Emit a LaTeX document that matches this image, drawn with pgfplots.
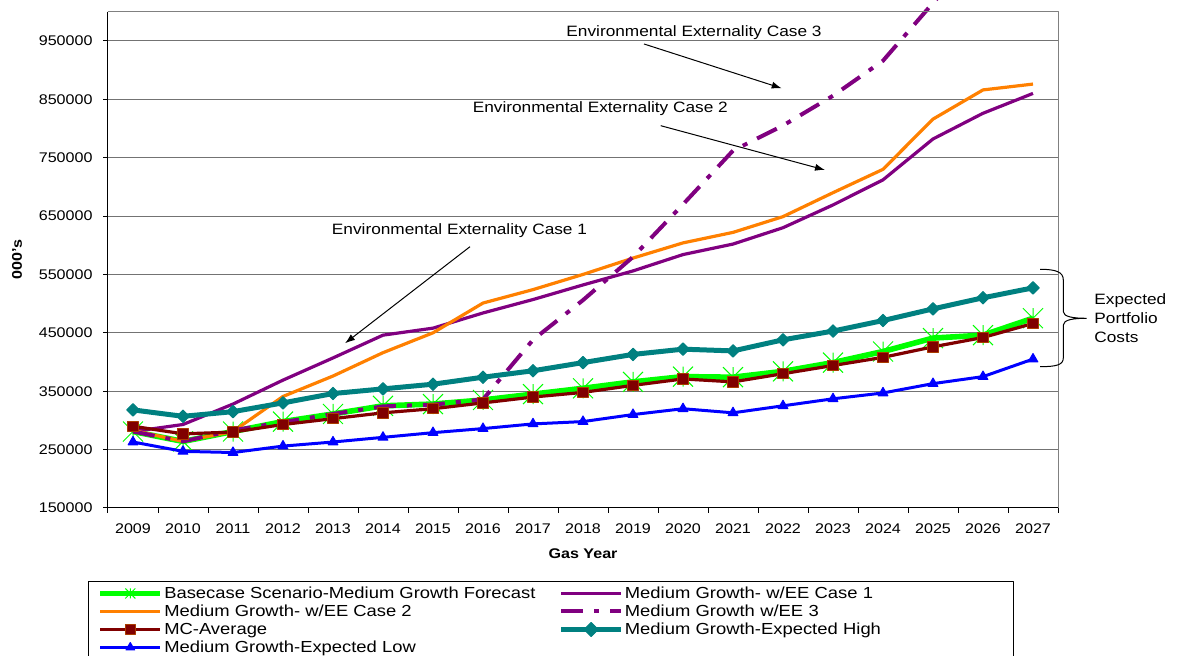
\documentclass[border=0pt]{standalone}
\usepackage{fontspec}
\setmainfont{Liberation Sans}[FakeStretch=1.15]
\usepackage{pgfplots}
\usepackage{pgfplotstable}
\pgfplotsset{compat=1.18}
\usetikzlibrary{arrows.meta}

\definecolor{baseGreen}{RGB}{0,255,0}
\definecolor{eePurple}{RGB}{128,0,128}
\definecolor{eeOrange}{RGB}{255,128,0}
\definecolor{mcRed}{RGB}{128,0,0}
\definecolor{mcEdge}{RGB}{170,60,0}
\definecolor{highTeal}{RGB}{0,128,128}
\definecolor{lowBlue}{RGB}{0,0,255}

\newcommand\tickfont{\fontsize{7}{8}\selectfont}
\newcommand\labelfont{\fontsize{7}{8}\selectfont\bfseries}
\newcommand\annfont{\fontsize{7.5}{9.65}\selectfont}
\newcommand\legendfont{\fontsize{8}{9}\selectfont}

% star marker: a cross with a vertical stroke through it
\pgfdeclareplotmark{xstar}{%
  \pgfpathmoveto{\pgfqpoint{-\pgfplotmarksize}{-\pgfplotmarksize}}%
  \pgfpathlineto{\pgfqpoint{\pgfplotmarksize}{\pgfplotmarksize}}%
  \pgfpathmoveto{\pgfqpoint{-\pgfplotmarksize}{\pgfplotmarksize}}%
  \pgfpathlineto{\pgfqpoint{\pgfplotmarksize}{-\pgfplotmarksize}}%
  \pgfpathmoveto{\pgfqpoint{0pt}{-\pgfplotmarksize}}%
  \pgfpathlineto{\pgfqpoint{0pt}{\pgfplotmarksize}}%
  \pgfusepathqstroke}

% portfolio costs per gas year (000's)
\pgfplotstableread{
year base ee1 ee2 ee3 mc high low
2009 281000 281000 283000 281000 290000 318000 263000
2010 264000 293000 264000 264000 277000 307000 247000
2011 281000 328000 281000 283000 280000 315000 245000
2012 298000 369000 341000 297000 293000 330000 256000
2013 311000 407000 376000 311000 303000 346000 263000
2014 325000 446000 416000 324000 313000 354000 271000
2015 328000 458000 450000 327000 320000 362000 279000
2016 335000 484000 501000 336000 330000 374000 286000
2017 345000 507000 524000 438000 340000 385000 294000
2018 355000 532000 550000 506000 348000 399000 298000
2019 366000 556000 578000 580000 360000 413000 310000
2020 375000 584000 604000 670000 371000 422000 320000
2021 374000 602000 622000 762000 366000 419000 313000
2022 384000 630000 649000 805000 380000 438000 325000
2023 399000 669000 690000 856000 394000 453000 337000
2024 418000 712000 730000 916000 408000 471000 347000
2025 441000 782000 816000 1015000 426000 491000 363000
2026 446000 826000 866000 1110000 442000 510000 375000
2027 475000 860000 876000 1200000 466000 527000 405000
}\costs

\begin{document}
\begin{tikzpicture}
\begin{axis}[
  scale only axis, width=475pt, height=254pt,
  xmin=2008.5, xmax=2027.5, ymin=150000, ymax=1020000,
  clip mode=individual,
  axis line style={draw=none},
  tick align=outside, tick pos=left,
  major tick length=2.5pt,
  tick style={black, line width=0.5pt},
  xtick={2008.5,2009.5,2010.5,2011.5,2012.5,2013.5,2014.5,2015.5,2016.5,2017.5,2018.5,2019.5,2020.5,2021.5,2022.5,2023.5,2024.5,2025.5,2026.5,2027.5},
  xticklabels={},
  extra x ticks={2009,2010,2011,2012,2013,2014,2015,2016,2017,2018,2019,2020,2021,2022,2023,2024,2025,2026,2027},
  extra x tick labels={2009,2010,2011,2012,2013,2014,2015,2016,2017,2018,2019,2020,2021,2022,2023,2024,2025,2026,2027},
  extra x tick style={major tick length=0pt, xticklabel style={anchor=center, yshift=-10.5pt}},
  ytick={150000,250000,350000,450000,550000,650000,750000,850000,950000},
  scaled y ticks=false,
  yticklabel style={anchor=east, xshift=-1.7pt},
  tick label style={font=\tickfont},
  /pgf/number format/fixed,
  /pgf/number format/1000 sep={},
  /pgf/number format/assume math mode=true,
  ymajorgrids, grid style={black!55, line width=0.5pt},
  xlabel={Gas Year}, ylabel={000's},
  every axis x label/.style={at={(0.5,0)}, yshift=-23pt, anchor=center, font=\labelfont},
  every axis y label/.style={at={(0,0.489)}, xshift=-45.5pt, rotate=90, anchor=center, font=\labelfont},
  line join=round,
  legend columns=2,
  legend cell align=left,
  legend style={at={(-0.02105,-0.1437)}, anchor=north west, draw=black, line width=0.5pt,
    font=\legendfont, inner xsep=4.5pt, inner ysep=1.5pt, row sep=0pt,
    /tikz/every even column/.append style={column sep=11pt},
    /tikz/column 4/.style={text width=189pt, align=left},
    nodes={inner sep=0.6pt, text height=6.2pt, text depth=1.6pt}},
  legend image code/.code={\draw[mark repeat=2,mark phase=2,mark size=2.5pt]
    plot coordinates {(0pt,0pt) (15pt,0pt) (30pt,0pt)};},
]
\addplot[baseGreen, line width=2.8pt, mark=xstar, mark size=5pt,
  mark options={solid, line width=0.5pt}] table[x=year, y=base] {\costs};
\addlegendentry{Basecase Scenario-Medium Growth Forecast}
\addplot[eePurple, line width=1.6pt] table[x=year, y=ee1] {\costs};
\addlegendentry{Medium Growth- w/EE Case 1}
\addplot[eeOrange, line width=1.6pt] table[x=year, y=ee2] {\costs};
\addlegendentry{Medium Growth- w/EE Case 2}
\addplot[eePurple, line width=2pt, dash pattern=on 11pt off 5.5pt on 2.5pt off 5.5pt]
  table[x=year, y=ee3] {\costs};
\addlegendentry{Medium Growth w/EE 3}
\addplot[mcRed, line width=1.6pt, mark=square*, mark size=2.6pt,
  mark options={solid, fill=mcRed, draw=mcEdge, line width=0.5pt}] table[x=year, y=mc] {\costs};
\addlegendentry{MC-Average}
\addplot[highTeal, line width=2.5pt, mark=square*, mark size=2.2pt,
  mark options={solid, rotate=45, fill=highTeal, line width=0.5pt}] table[x=year, y=high] {\costs};
\addlegendentry{Medium Growth-Expected High}
\addplot[lowBlue, line width=1.5pt, mark=triangle*, mark size=2.8pt,
  mark options={solid, fill=lowBlue, line width=0.5pt}] table[x=year, y=low] {\costs};
\addlegendentry{Medium Growth-Expected Low}

% plot frame
\draw[black!50, line width=0.5pt] (axis cs:2008.5,1000000) -- (axis cs:2027.5,1000000) -- (axis cs:2027.5,150000);
\draw[black, line width=0.5pt] (axis cs:2008.5,1000000) -- (axis cs:2008.5,150000) -- (axis cs:2027.5,150000);
\end{axis}

% annotations
\draw[-{Latex[length=5pt,width=3.5pt]}, line width=0.5pt] (181pt,130.65pt) -- (118.5pt,82.35pt);
\node[font=\annfont] at (175.75pt,138.65pt) {Environmental Externality Case 1};
\draw[-{Latex[length=5pt,width=3.5pt]}, line width=0.5pt] (276.35pt,191.15pt) -- (358.5pt,169pt);
\node[font=\annfont] at (246.15pt,199.85pt) {Environmental Externality Case 2};
\draw[-{Latex[length=5pt,width=3.5pt]}, line width=0.5pt] (268pt,232pt) -- (336.85pt,209.85pt);
\node[font=\annfont] at (293pt,237.5pt) {Environmental Externality Case 3};

\draw[line width=0.5pt] (466pt,119.35pt) .. controls (474pt,119.35pt) and (477.65pt,118pt) .. (477.65pt,114pt)
  -- (477.65pt,98.15pt) .. controls (477.65pt,95.5pt) and (483pt,94.85pt) .. (489.35pt,94.85pt)
  .. controls (483pt,94.85pt) and (477.65pt,94.2pt) .. (477.65pt,91.5pt)
  -- (477.65pt,75pt) .. controls (477.65pt,71.5pt) and (474pt,70.65pt) .. (466pt,70.65pt);
\node[anchor=west, align=left, font=\annfont, inner sep=0pt] at (493pt,94.85pt) {Expected\\Portfolio\\Costs};

\pgfresetboundingbox
\useasboundingbox (-54pt,-74pt) rectangle (534.5pt,254pt);
\end{tikzpicture}
\end{document}
